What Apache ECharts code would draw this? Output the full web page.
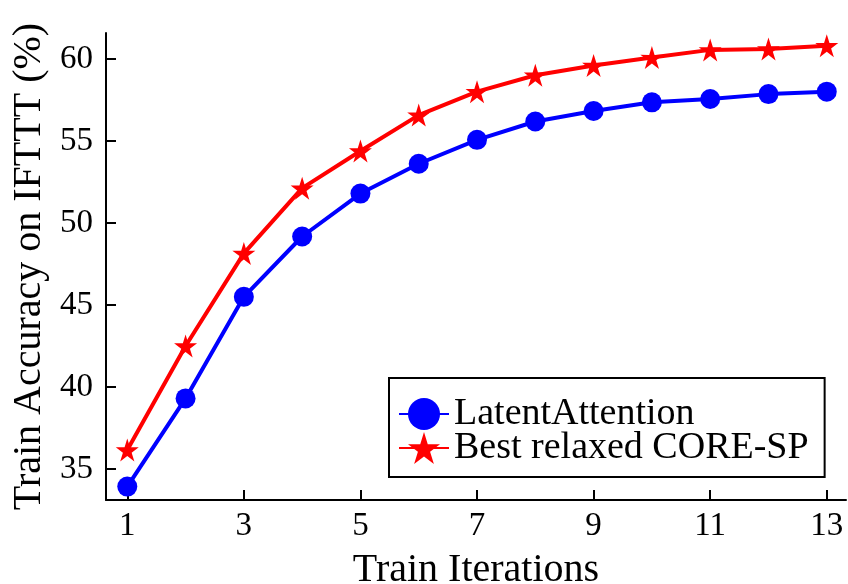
<!DOCTYPE html>
<html>
<head>
<meta charset="utf-8">
<script src="https://cdn.jsdelivr.net/npm/echarts@6/dist/echarts.min.js"></script>
<style>
html,body{margin:0;padding:0;background:#fff;}
#chart{width:848px;height:584px;}
</style>
</head>
<body>
<div id="chart"></div>
<script>
const iterations = [1, 2, 3, 4, 5, 6, 7, 8, 9, 10, 11, 12, 13];
const latentAttention = [33.92, 39.3, 45.5, 49.18, 51.8, 53.62, 55.08, 56.2, 56.84, 57.37, 57.57, 57.87, 58.02];
const coreSP = [36.15, 42.5, 48.15, 52.13, 54.4, 56.59, 58.02, 59.02, 59.62, 60.1, 60.57, 60.62, 60.82];
const xTicks = [1, 3, 5, 7, 9, 11, 13];
const yTicks = [35, 40, 45, 50, 55, 60];

const FONT = 'Liberation Serif';
const STAR = 'path://M50,0L61.17,34.63L97.55,34.55L68.07,55.87L79.39,90.45L50,69L20.61,90.45L31.93,55.87L2.45,34.55L38.83,34.63Z';

const chart = echarts.init(document.getElementById('chart'));
chart.setOption({
  animation: false,
  backgroundColor: '#fff',
  grid: {left: 106, right: 2, top: 33, bottom: 84, containLabel: false, outerBoundsMode: 'none'},
  xAxis: {
    type: 'value',
    min: 0.635, max: 13.33,
    name: 'Train Iterations',
    nameLocation: 'middle',
    nameGap: 50,
    nameTextStyle: {fontFamily: FONT, fontSize: 40, color: '#000'},
    axisLine: {show: true, onZero: false, lineStyle: {color: '#000', width: 2}},
    axisTick: {show: true, inside: true, length: 10, customValues: xTicks, lineStyle: {color: '#000', width: 2}},
    axisLabel: {customValues: xTicks, fontFamily: FONT, fontSize: 33, color: '#000', margin: 10},
    splitLine: {show: false}
  },
  yAxis: {
    type: 'value',
    min: 33.1, max: 61.6,
    name: 'Train Accuracy on IFTTT (%)',
    nameLocation: 'middle',
    nameGap: 56,
    nameTextStyle: {fontFamily: FONT, fontSize: 40, color: '#000'},
    axisLine: {show: true, onZero: false, lineStyle: {color: '#000', width: 2}},
    axisTick: {show: true, inside: true, length: 10, customValues: yTicks, lineStyle: {color: '#000', width: 2}},
    axisLabel: {customValues: yTicks, fontFamily: FONT, fontSize: 33, color: '#000', margin: 13},
    splitLine: {show: false}
  },
  legend: {
    orient: 'vertical',
    left: 389, top: 378,
    align: 'left',
    padding: [17, 16, 10, 9],
    itemWidth: 50, itemHeight: 40, itemGap: -4,
    borderColor: '#000', borderWidth: 2,
    backgroundColor: '#fff',
    textStyle: {fontFamily: FONT, fontSize: 38, color: '#000', lineHeight: 38},
    data: ['LatentAttention', 'Best relaxed CORE-SP']
  },
  series: [
    {
      name: 'LatentAttention',
      type: 'line',
      data: iterations.map((x, i) => [x, latentAttention[i]]),
      symbol: 'circle', symbolSize: 20,
      lineStyle: {color: '#0000ff', width: 4},
      itemStyle: {color: '#0000ff'},
      z: 2
    },
    {
      name: 'Best relaxed CORE-SP',
      type: 'line',
      data: iterations.map((x, i) => [x, coreSP[i]]),
      symbol: STAR, symbolSize: 23,
      lineStyle: {color: '#ff0000', width: 4},
      itemStyle: {color: '#ff0000'},
      z: 3
    }
  ]
});
</script>
</body>
</html>
